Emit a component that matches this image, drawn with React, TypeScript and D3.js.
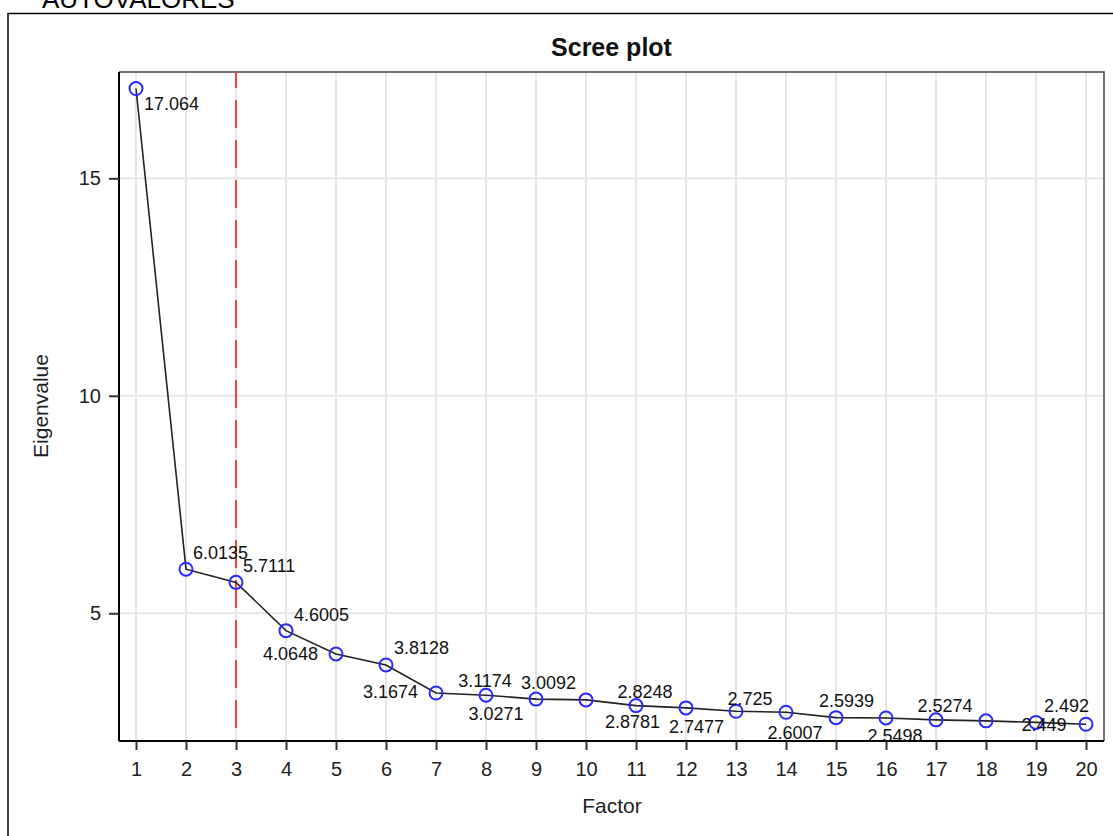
import React, { useEffect, useRef } from 'react'
import * as d3 from 'd3'

// eigenvalues
const factors = d3.range(1, 21)
const eigenvalues = [
  17.064, 6.0135, 5.7111, 4.6005, 4.0648, 3.8128, 3.1674, 3.1174, 3.0271, 3.0092,
  2.8781, 2.8248, 2.7477, 2.725, 2.6007, 2.5939, 2.5498, 2.5274, 2.492, 2.449,
]
const yTicks = [5, 10, 15]
const cutoffFactor = 3

// where each value label sits relative to its point: [anchor, dx, dy]
const labelPlacement: [string, number, number][] = [
  ['start', 8, 15.5], ['start', 7, -16], ['start', 7, -16.5], ['start', 8, -15.5],
  ['end', -18, 0], ['start', 8, -17], ['end', -18, -1], ['middle', -1, -14],
  ['middle', -40, 15], ['middle', -37.5, -16.5], ['middle', -3.5, 16.5], ['middle', -41, -16],
  ['middle', -39.5, 15.5], ['middle', -36, -13.5], ['middle', -41, 15.5], ['middle', -39.5, -16.5],
  ['middle', -41, 16], ['middle', -41, -15], ['middle', 30.5, -16.5], ['middle', -42, 0.5],
]

const FONT = '"Liberation Sans", Arial, sans-serif'

export default function App() {
  const ref = useRef<SVGSVGElement>(null)

  useEffect(() => {
    const svg = d3.select(ref.current)
    svg.selectAll('*').remove()

    const left = 119, right = 1104, top = 72, bottom = 741

    const x = d3.scaleLinear().domain([0.66, 20.36]).range([left, right])
    const y = d3.scaleLinear().domain([2.064, 17.444]).range([bottom, top])

    // outer frame of the page section
    svg.append('path')
      .attr('d', 'M8,836 L8,13.5 L1113,13.5')
      .attr('fill', 'none')
      .attr('stroke', '#000')
      .attr('stroke-width', 1.5)

    svg.append('text')
      .attr('x', 42).attr('y', 8)
      .attr('font-family', FONT).attr('font-size', 26)
      .text('AUTOVALORES')

    svg.append('text')
      .attr('x', (left + right) / 2).attr('y', 56)
      .attr('text-anchor', 'middle')
      .attr('font-family', FONT).attr('font-size', 25).attr('font-weight', 'bold')
      .attr('fill', '#111')
      .text('Scree plot')

    // grid
    const grid = svg.append('g').attr('stroke', '#e6e6e6').attr('stroke-width', 2)
    grid.selectAll('line.v').data(factors).enter().append('line')
      .attr('class', 'v')
      .attr('x1', d => x(d)).attr('x2', d => x(d))
      .attr('y1', top).attr('y2', bottom)
    grid.selectAll('line.h').data(yTicks).enter().append('line')
      .attr('class', 'h')
      .attr('x1', left).attr('x2', right)
      .attr('y1', d => y(d)).attr('y2', d => y(d))

    // plot box (top / right)
    svg.append('path')
      .attr('d', `M${left},${top} L${right},${top} L${right},${bottom}`)
      .attr('fill', 'none')
      .attr('stroke', '#444')
      .attr('stroke-width', 1.5)

    // reference line at the retained factor count
    svg.append('line')
      .attr('x1', x(cutoffFactor)).attr('x2', x(cutoffFactor))
      .attr('y1', top).attr('y2', bottom)
      .attr('stroke', '#ff3b3b')
      .attr('stroke-width', 2)
      .attr('stroke-dasharray', '28 12')
      .attr('stroke-dashoffset', 12)

    // axes
    const xAxis = d3.axisBottom(x).tickValues(factors).tickSize(9).tickPadding(12).tickFormat(d3.format('d'))
    const gx = svg.append('g').attr('transform', `translate(0,${bottom})`).call(xAxis)
    gx.select('.domain').attr('d', `M${left},0H${right}`).attr('stroke', '#000').attr('stroke-width', 2)

    const yAxis = d3.axisLeft(y).tickValues(yTicks).tickSize(10).tickPadding(8)
    const gy = svg.append('g').attr('transform', `translate(${left},0)`).call(yAxis)
    gy.select('.domain').attr('d', `M0,${top}V${bottom}`).attr('stroke', '#000').attr('stroke-width', 2)

    svg.selectAll('.tick line').attr('stroke', '#333').attr('stroke-width', 2)
    svg.selectAll('.tick text')
      .attr('font-family', FONT).attr('font-size', 20).attr('fill', '#222')

    svg.append('text')
      .attr('transform', `translate(48,406) rotate(-90)`)
      .attr('text-anchor', 'middle')
      .attr('font-family', FONT).attr('font-size', 21).attr('fill', '#222')
      .text('Eigenvalue')

    svg.append('text')
      .attr('x', 612).attr('y', 813)
      .attr('text-anchor', 'middle')
      .attr('font-family', FONT).attr('font-size', 21).attr('fill', '#222')
      .text('Factor')

    // series
    const pts = factors.map((f, i) => [f, eigenvalues[i]] as [number, number])
    const line = d3.line<[number, number]>().x(d => x(d[0])).y(d => y(d[1]))

    svg.append('path')
      .datum(pts)
      .attr('d', line)
      .attr('fill', 'none')
      .attr('stroke', '#222')
      .attr('stroke-width', 1.6)

    svg.selectAll('circle.pt').data(pts).enter().append('circle')
      .attr('class', 'pt')
      .attr('cx', d => x(d[0])).attr('cy', d => y(d[1]))
      .attr('r', 6.5)
      .attr('fill', 'none')
      .attr('stroke', '#2a2aff')
      .attr('stroke-width', 2)

    svg.selectAll('text.lbl').data(pts).enter().append('text')
      .attr('class', 'lbl')
      .attr('x', (d, i) => x(d[0]) + labelPlacement[i][1])
      .attr('y', (d, i) => y(d[1]) + labelPlacement[i][2])
      .attr('text-anchor', (d, i) => labelPlacement[i][0])
      .attr('dominant-baseline', 'central')
      .attr('font-family', FONT).attr('font-size', 18).attr('fill', '#111')
      .text(d => String(d[1]))
  }, [])

  return (
    <svg ref={ref} width={1113} height={836}
      style={{ position: 'absolute', left: 0, top: 0, background: '#fff' }} />
  )
}
